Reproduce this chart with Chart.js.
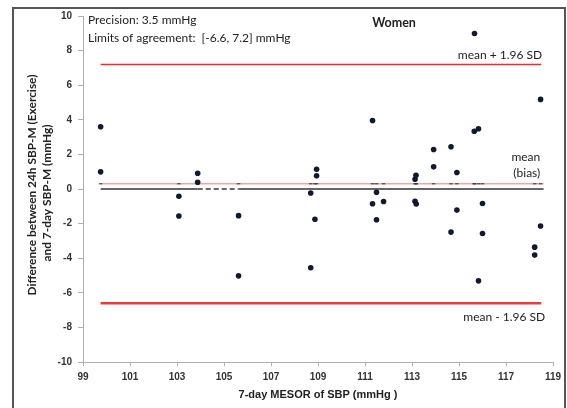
<!DOCTYPE html>
<html>
<head>
<meta charset="utf-8">
<script src="https://cdn.jsdelivr.net/npm/chart.js@4.4.1/dist/chart.umd.min.js"></script>
<style>
  html, body { margin: 0; padding: 0; background: #fff; }
  #wrap { width: 567px; height: 408px; position: relative; }
</style>
</head>
<body>
<div id="wrap"><canvas id="bland" width="567" height="408"></canvas></div>
<script>
// --- data ---
const mesorX = [99.75, 99.75, 103.08, 103.08, 103.88, 103.88, 105.62, 105.62,
  108.69, 108.69, 108.87, 108.94, 108.94, 111.32, 111.32, 111.49, 111.49, 111.79,
  113.13, 113.17, 113.13, 113.18, 113.92, 113.92, 114.66, 114.66, 114.91, 114.91,
  115.65, 115.83, 115.66, 115.83, 116.0, 116.0, 118.47, 118.47, 118.22, 118.22];
const diffY = [3.6, 0.99, -0.42, -1.56, 0.91, 0.39, -1.54, -5.02,
  -0.23, -4.55, -1.75, 1.14, 0.76, 3.96, -0.85, -0.19, -1.78, -0.72,
  0.56, 0.79, -0.71, -0.87, 2.28, 1.28, 2.44, -2.49, 0.95, -1.22,
  3.34, 3.48, 8.99, -5.31, -0.84, -2.57, 5.18, -2.14, -3.36, -3.82];

const meanBias = 0.3;
const upperLimit = 7.2;
const lowerLimit = -6.6;
const lineSpan = [99.75, 118.5];
const zeroLineX = [99.75, 103.88, 105.62, 118.6];

const xTicks = [99, 101, 103, 105, 107, 109, 111, 113, 115, 117, 119];
const yTicks = [-10, -8, -6, -4, -2, 0, 2, 4, 6, 8, 10];
const yTitle = ['Difference between 24h SBP-M (Exercise)', 'and 7-day SBP-M (mmHg)'];

const points = mesorX.map((x, i) => ({ x: x, y: diffY[i] }));
const biasMarks = [...new Set(mesorX)].map(x => ({ x: x, y: meanBias }));
const hLine = (y, xs) => xs.map(x => ({ x: x, y: y }));

// --- annotation text, y title + frame ---
const annotate = {
  id: 'annotate',
  afterDatasetsDraw(chart) {
    const { ctx, scales: { x, y } } = chart;
    ctx.save();
    ctx.fillStyle = '#222';
    ctx.textBaseline = 'middle';
    ctx.font = '12px Lato';
    ctx.textAlign = 'left';
    ctx.fillText('Precision: 3.5 mmHg', 88, 20);
    ctx.fillText('Limits of agreement:  [-6.6, 7.2] mmHg', 88, 38);
    ctx.font = 'bold 12.5px Lato';
    ctx.textAlign = 'center';
    ctx.fillText('Women', 394, 23);
    ctx.font = '12px Lato';
    ctx.textAlign = 'right';
    const rx = x.getPixelForValue(lineSpan[1]);
    ctx.fillText('mean + 1.96 SD', rx + 1, y.getPixelForValue(upperLimit) - 9);
    ctx.fillText('mean', rx - 1, y.getPixelForValue(meanBias) - 27);
    ctx.fillText('(bias)', rx - 1, y.getPixelForValue(meanBias) - 11);
    ctx.fillText('mean - 1.96 SD', rx + 4, y.getPixelForValue(lowerLimit) + 14);

    // rotated y axis title, sized so the first line is ~221px long
    ctx.font = 'bold 12px Lato';
    const w = ctx.measureText(yTitle[0]).width;
    const size = Math.min(13, 12 * 221 / w);
    ctx.font = 'bold ' + size.toFixed(2) + 'px Lato';
    ctx.textAlign = 'center';
    ctx.save();
    ctx.translate(32, 185);
    ctx.rotate(-Math.PI / 2);
    ctx.fillText(yTitle[0], 0, 0);
    ctx.restore();
    ctx.save();
    ctx.translate(47, 193);
    ctx.rotate(-Math.PI / 2);
    ctx.fillText(yTitle[1], 0, 0);
    ctx.restore();

    // outer frame
    ctx.strokeStyle = '#555';
    ctx.lineWidth = 2;
    ctx.beginPath();
    ctx.moveTo(13, 408);
    ctx.lineTo(13, 8);
    ctx.lineTo(565, 8);
    ctx.lineTo(565, 408);
    ctx.stroke();
    ctx.restore();
  }
};

const axisGray = '#b0b0b0';
const tickFont = { family: 'Liberation Sans', size: 10, weight: 'bold' };

new Chart(document.getElementById('bland'), {
  type: 'scatter',
  data: {
    datasets: [
      {
        data: points,
        pointRadius: 2.8,
        pointBackgroundColor: '#0f1a30',
        pointBorderWidth: 0,
        showLine: false
      },
      {
        data: biasMarks,
        pointStyle: 'line',
        pointRadius: 1.8,
        pointBorderColor: '#333',
        pointBorderWidth: 1,
        showLine: false
      },
      {
        data: hLine(upperLimit, lineSpan),
        showLine: true, pointRadius: 0,
        borderColor: '#ee2a2a', borderWidth: 1.5
      },
      {
        data: hLine(lowerLimit, lineSpan),
        showLine: true, pointRadius: 0,
        borderColor: '#ee3b35', borderWidth: 2.5
      },
      {
        data: hLine(meanBias, [99.75, 118.6]),
        showLine: true, pointRadius: 0,
        borderColor: '#f6a3a3', borderWidth: 1.5
      },
      {
        data: hLine(0, zeroLineX),
        showLine: true, pointRadius: 0,
        borderColor: '#333', borderWidth: 1.5,
        segment: { borderDash: ctx => ctx.p0DataIndex === 1 ? [5, 3] : undefined }
      }
    ]
  },
  options: {
    responsive: false,
    animation: false,
    devicePixelRatio: 1,
    layout: { padding: { top: 16, right: 14, left: 0, bottom: 0 } },
    plugins: { legend: { display: false }, tooltip: { enabled: false } },
    scales: {
      x: {
        type: 'linear', min: 99, max: 119,
        afterBuildTicks: s => { s.ticks = xTicks.map(v => ({ value: v })); },
        afterFit: s => { s.height = 46; },
        grid: { drawOnChartArea: false, tickLength: 4, color: axisGray },
        border: { color: axisGray, width: 1 },
        ticks: { font: tickFont, color: '#333', padding: 5, maxRotation: 0 },
        title: {
          display: true, text: '7-day MESOR of SBP (mmHg )', color: '#222',
          font: { family: 'Liberation Sans', size: 11, weight: 'bold', lineHeight: 1.364 },
          padding: { top: 0, bottom: 5.5 }
        }
      },
      y: {
        type: 'linear', min: -10, max: 10,
        afterBuildTicks: s => { s.ticks = yTicks.map(v => ({ value: v })); },
        afterFit: s => { s.width = 83; },
        grid: { drawOnChartArea: false, tickLength: 5, color: axisGray },
        border: { color: axisGray, width: 1 },
        ticks: { font: tickFont, color: '#333', padding: 6 },
        title: { display: false }
      }
    }
  },
  plugins: [annotate]
});
</script>
</body>
</html>
